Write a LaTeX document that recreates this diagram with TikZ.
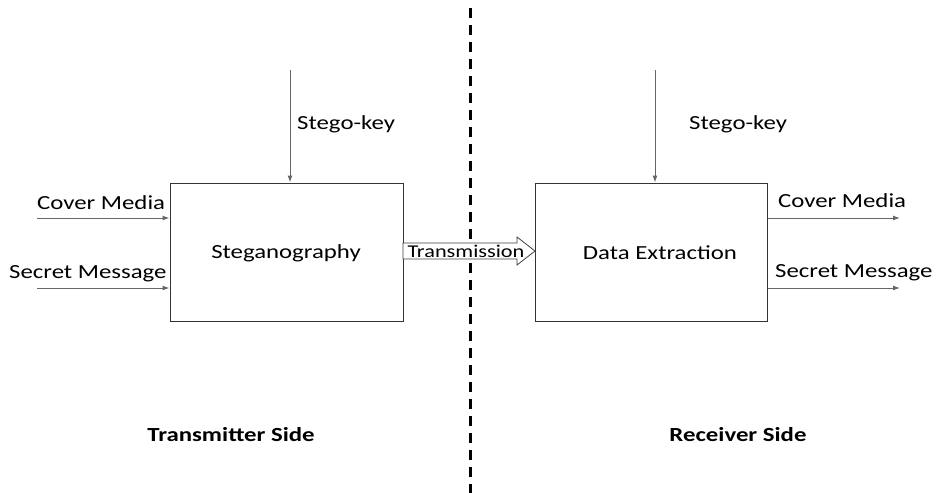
\documentclass[tikz,border=0pt]{standalone}
\usepackage{fontspec}
\setmainfont{Carlito}[FakeStretch=1.24]
\usetikzlibrary{arrows.meta}
\begin{document}
\begin{tikzpicture}[x=1pt,y=-1pt,
  font=\fontsize{20}{24}\selectfont,
  procbox/.style={draw=black!80, line width=1pt, fill=white, inner sep=0pt},
  sig/.style={draw=black!60, line width=1pt, -{Latex[length=7pt,width=5pt]}},
  lbl/.style={inner sep=0pt, anchor=center},
  sidelbl/.style={inner sep=0pt, font=\fontsize{20}{24}\selectfont\bfseries}]
\useasboundingbox (0,0) rectangle (938,493);
% divider
\coordinate (dtop) at (470,8);
\coordinate (dbot) at (470,493);
\draw[line width=3pt, dash pattern=on 10pt off 7pt] (dtop) -- (dbot);
% boxes
\node[procbox, minimum width=233, minimum height=138] (steg) at (286.5,252) {};
\node[procbox, minimum width=232, minimum height=138] (extr) at (651,252) {};
\node[lbl] at (286,253) {Steganography};
\node[lbl] at (660,253) {Data Extraction};
% stego keys
\coordinate (k1) at (290,70);
\coordinate (k2) at (655,70);
\draw[sig] (k1) -- (k1 |- steg.north);
\draw[sig] (k2) -- (k2 |- extr.north);
\node[lbl, anchor=west] (sk1) at (297,124) {Stego-key};
\node[lbl, anchor=west] (sk2) at (689,124) {Stego-key};
% inputs
\coordinate (in1) at (37,218);
\coordinate (in2) at (37,288);
\draw[sig] (in1) -- (in1 -| steg.west);
\draw[sig] (in2) -- (in2 -| steg.west);
\node[lbl, anchor=west] (cm1) at (37,203) {Cover Media};
\node[lbl, anchor=west] (sm1) at (9,274) {Secret Message};
% outputs
\coordinate (out1) at (900,218);
\coordinate (out2) at (900,288);
\draw[sig] (out1 -| extr.east) -- (out1);
\draw[sig] (out2 -| extr.east) -- (out2);
\node[lbl, anchor=west] (cm2) at (778,201) {Cover Media};
\node[lbl, anchor=west] (sm2) at (775,273) {Secret Message};
% transmission block arrow
\draw[draw=black!75, line width=0.8pt, fill=white]
  (403,243) -- (517,243) -- (517,237) -- (535,251) -- (517,265) -- (517,259) -- (403,259) -- cycle;
\node[lbl, font=\fontsize{18}{20}\selectfont] (tx) at (466,251) {Transmission};
% side labels
\node[sidelbl] (ts) at (231,435) {Transmitter Side};
\node[sidelbl] (rs) at (738,435) {Receiver Side};
\end{tikzpicture}
\end{document}
